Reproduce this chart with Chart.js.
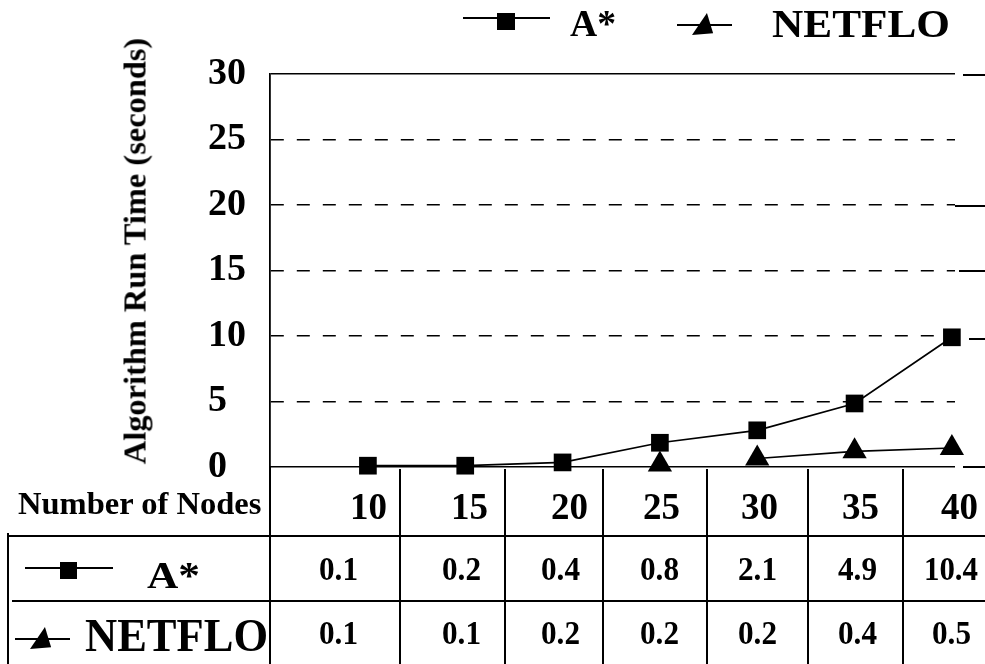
<!DOCTYPE html>
<html>
<head>
<meta charset="utf-8">
<script src="https://cdn.jsdelivr.net/npm/chart.js@4.4.0/dist/chart.umd.min.js"></script>
<style>
  html, body { margin: 0; padding: 0; background: #fff; }
  #wrap { position: relative; width: 985px; height: 664px; overflow: hidden; background: #fff; }
  #chartBox { position: absolute; left: 0; top: 0; width: 985px; height: 664px; }
  .txt { position: absolute; font-family: 'Liberation Serif', 'Times New Roman', serif; font-weight: bold;
         color: #000; white-space: nowrap; line-height: 1; transform-origin: 0 0; }
  .ln { position: absolute; background: #000; }
  .tri { position: absolute; background: #000; clip-path: polygon(68% 0, 96% 92%, 0 100%); }
</style>
</head>
<body>
<div id="wrap">
  <div id="chartBox"><canvas id="runChart"></canvas></div>
</div>
<script>
// data
const nodeCounts = [10, 15, 20, 25, 30, 35, 40];
const aStarTimes = [0.1, 0.1, 0.35, 1.85, 2.8, 4.85, 9.9];      // plotted points
const netfloTimes = [null, null, null, 0.2, 0.65, 1.2, 1.45];  // plotted points
const aStarTable = ['0.1', '0.2', '0.4', '0.8', '2.1', '4.9', '10.4'];
const netfloTable = ['0.1', '0.1', '0.2', '0.2', '0.2', '0.4', '0.5'];
const yTicks = [0, 5, 10, 15, 20, 25, 30];
const seriesNames = ['A*', 'NETFLO'];
const yTitle = 'Algorithm Run Time (seconds)';
const rowHeader = 'Number of Nodes';

const wrap = document.getElementById('wrap');
const FONT = "'Liberation Serif', 'Times New Roman', serif";
const measureCtx = document.createElement('canvas').getContext('2d');

function textWidth(str, size) {
  measureCtx.font = `bold ${size}px ${FONT}`;
  return measureCtx.measureText(str).width;
}

// x is left edge (align 'left') or centre (align 'center'); y is the baseline
function addText(str, x, y, size, opts = {}) {
  const el = document.createElement('div');
  el.className = 'txt';
  el.textContent = str;
  el.style.fontSize = size + 'px';
  const w = textWidth(str, size);
  const sx = opts.width ? opts.width / w : (opts.stretch || 1);
  const left = opts.align === 'center' ? x - (w * sx) / 2 : x;
  el.style.left = left + 'px';
  el.style.top = (y - 0.8375 * size) + 'px';
  el.style.transform = `scaleX(${sx})`;
  wrap.appendChild(el);
}

function addRotated(str, cx, cy, size, length) {
  const el = document.createElement('div');
  el.className = 'txt';
  el.textContent = str;
  el.style.fontSize = size + 'px';
  const s = length / textWidth(str, size);
  el.style.left = cx + 'px';
  el.style.top = cy + 'px';
  el.style.transform = `rotate(-90deg) scaleX(${s}) translate(-50%, -50%)`;
  wrap.appendChild(el);
}

function addLine(x, y, w, h) {
  const el = document.createElement('div');
  el.className = 'ln';
  Object.assign(el.style, { left: x + 'px', top: y + 'px', width: w + 'px', height: h + 'px' });
  wrap.appendChild(el);
}

function addTriangle(x, y, w, h) {
  const el = document.createElement('div');
  el.className = 'tri';
  Object.assign(el.style, { left: x + 'px', top: y + 'px', width: w + 'px', height: h + 'px' });
  wrap.appendChild(el);
}

// ---- chart ----
const toPoints = vals => nodeCounts.map((n, i) => ({ x: n, y: vals[i] }));

new Chart(document.getElementById('runChart'), {
  type: 'line',
  data: {
    datasets: [
      {
        label: seriesNames[0],
        data: toPoints(aStarTimes),
        borderColor: '#000',
        borderWidth: 1.7,
        pointStyle: 'rect',
        pointRadius: 12.5,
        pointBackgroundColor: '#000',
        pointBorderWidth: 0,
        clip: false
      },
      {
        label: seriesNames[1],
        data: toPoints(netfloTimes),
        borderColor: '#000',
        borderWidth: 1.7,
        pointStyle: 'triangle',
        pointRadius: 14,
        pointBackgroundColor: '#000',
        pointBorderWidth: 0,
        clip: false,
        // no connector between 25 and 30 in the original
        segment: { borderColor: ctx => ctx.p0DataIndex === 3 ? 'rgba(0,0,0,0)' : '#000' }
      }
    ]
  },
  options: {
    responsive: true,
    maintainAspectRatio: false,
    animation: false,
    layout: { padding: { left: 208, top: 74, right: 30, bottom: 197 } },
    plugins: { legend: { display: false }, tooltip: { enabled: false } },
    scales: {
      x: { type: 'linear', min: 4.97, max: 40.16, display: false },
      y: {
        min: 0,
        max: 30,
        afterFit: s => { s.width = 62; },
        afterBuildTicks: s => { s.ticks = yTicks.map(v => ({ value: v })); },
        ticks: { crossAlign: 'far', padding: 0, color: '#000',
                 font: { family: FONT, size: 38, weight: 'bold' } },
        grid: { color: '#000', lineWidth: 1.5, drawTicks: false },
        border: { display: true, color: '#000', width: 1.8,
                  dash: ctx => (ctx.tick && ctx.tick.value > 0 && ctx.tick.value < 30) ? [13, 13] : [] }
      }
    }
  }
});

// ---- axis title ----
addRotated(yTitle, 135, 251, 31, 427);

// ---- legend ----
addLine(463, 17, 87, 1.8);
addLine(497, 13, 18, 17);
addText(seriesNames[0], 570, 36, 37, { width: 46 });
addLine(677, 24, 55, 1.8);
addTriangle(692, 13, 22, 22);
addText(seriesNames[1], 772, 37, 40, { width: 178 });

// stray grid stubs right of the plot
addLine(963, 74, 22, 1.8);
addLine(955, 205, 30, 1.8);
addLine(959, 270, 26, 1.8);
addLine(969, 338, 16, 1.8);
addLine(963, 466, 22, 1.8);

// ---- data table ----
const colLines = [400, 505, 603, 707, 808, 903];
const headCenters = [368, 469, 569, 661, 759, 860, 959];
const cellCenters = [338, 461, 560, 659, 757, 857, 951];

addLine(268.5, 466, 2, 198);
colLines.forEach(x => addLine(x - 1, 469, 2, 195));
addLine(7, 534.5, 978, 2);
addLine(12, 600, 973, 2);
addLine(7, 533, 2, 131);

addText(rowHeader, 18, 514, 32, { width: 244 });
nodeCounts.forEach((n, i) => addText(String(n), headCenters[i], 519, 38, { align: 'center', width: 37 }));

// row labels with their markers
addLine(25, 567, 88, 1.8);
addLine(60, 562, 17, 17);
addText(seriesNames[0], 147, 588, 37, { width: 53 });
addLine(15, 638, 55, 1.8);
addTriangle(30, 627, 22, 22);
addText(seriesNames[1], 85, 652, 46, { width: 183 });

aStarTable.forEach((v, i) => addText(v, cellCenters[i], 581, 33, { align: 'center', width: v.length > 3 ? 54 : 39 }));
netfloTable.forEach((v, i) => addText(v, cellCenters[i], 645, 33, { align: 'center', width: v.length > 3 ? 54 : 39 }));
</script>
</body>
</html>
